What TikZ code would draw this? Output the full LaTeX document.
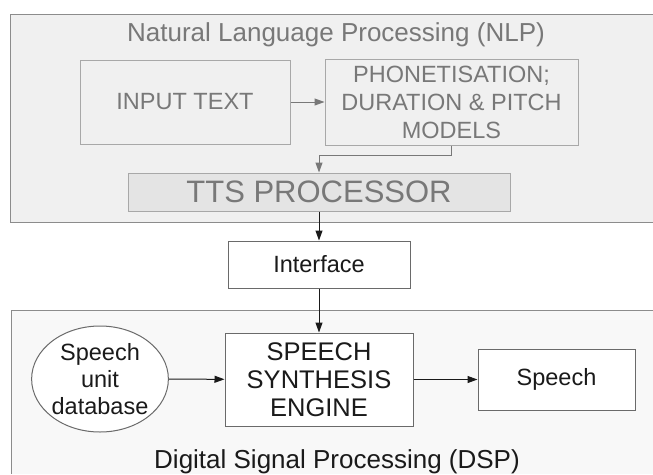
\documentclass[tikz,border=0pt]{standalone}
\usepackage{fontspec}
\setmainfont{Liberation Sans}
\usetikzlibrary{shapes.geometric,arrows.meta}
\definecolor{nlpfill}{HTML}{F0F0F0}
\definecolor{nlpline}{HTML}{A8A8A8}
\definecolor{nlptext}{HTML}{787878}
\definecolor{ttsfill}{HTML}{E4E4E4}
\definecolor{dspfill}{HTML}{F8F8F8}
\definecolor{panelline}{HTML}{8C8C8C}
\definecolor{dspline}{HTML}{6A6A6A}
\definecolor{dsptext}{HTML}{1A1A1A}
\tikzset{
  nlpbox/.style={draw=nlpline, fill=nlpfill, text=nlptext, line width=1pt,
    align=center, inner sep=0pt, font=\fontsize{23.5}{28}\selectfont},
  dspbox/.style={draw=dspline, fill=white, text=dsptext, line width=1pt,
    align=center, inner sep=0pt, font=\fontsize{23.5}{28}\selectfont},
  nlparrow/.style={draw=nlptext, line width=1pt, -{Triangle[length=10pt,width=7pt]}},
  dsparrow/.style={draw=dsptext, line width=1pt, -{Triangle[length=10pt,width=7pt]}}
}
\begin{document}
\begin{tikzpicture}[x=1pt,y=-1pt]
      \useasboundingbox (0,0) rectangle (653,474);
      % panels
      \fill[nlpfill] (10,14) rectangle (653,222);
      \draw[panelline, line width=1pt] (653,14) -| (10,222) -- (653,222);
      \fill[dspfill] (11,310) rectangle (653,474);
      \draw[panelline, line width=1pt] (653,310) -| (11,474);
      % NLP part
      \node[anchor=base, text=nlptext, font=\fontsize{26}{30}\selectfont]
        (nlptitle) at (336,41) {Natural Language Processing (NLP)};
      \node[nlpbox, minimum width=210pt, minimum height=84pt]
        (input) at (185,102) {INPUT TEXT};
      \node[nlpbox, minimum width=253pt, minimum height=86pt]
        (phon) at (451.5,102) {PHONETISATION;\\DURATION \& PITCH\\MODELS};
      \node[nlpbox, fill=ttsfill, minimum width=382pt, minimum height=38pt,
        font=\fontsize{31}{34}\selectfont]
        (tts) at (319,192) {TTS PROCESSOR};
      % interface and DSP part
      \node[dspbox, minimum width=182pt, minimum height=47pt]
        (interface) at (319,264.5) {Interface};
      \node[dspbox, minimum width=188pt, minimum height=93pt,
        font=\fontsize{25.5}{28}\selectfont]
        (engine) at (319,379.5) {SPEECH\\SYNTHESIS\\ENGINE};
      \node[dspbox, ellipse, minimum width=134pt, minimum height=106pt,
        font=\fontsize{23.5}{27}\selectfont]
        (database) at (100,379) {Speech\\unit\\database};
      \node[dspbox, minimum width=157pt, minimum height=61pt]
        (speech) at (556.5,379.5) {Speech};
      \node[anchor=base, text=dsptext, font=\fontsize{26}{30}\selectfont]
        (dsptitle) at (337,468) {Digital Signal Processing (DSP)};
      \begin{scope}
        \draw[nlparrow] (input) -- (phon);
        \draw[nlparrow] (phon.south) -- ++(0,10) -| (tts.north);
        \draw[dsparrow] (tts) -- (interface);
        \draw[dsparrow] (interface) -- (engine);
        \draw[dsparrow] (database) -- (engine);
        \draw[dsparrow] (engine) -- (speech);
      \end{scope}
    \end{tikzpicture}
\end{document}
